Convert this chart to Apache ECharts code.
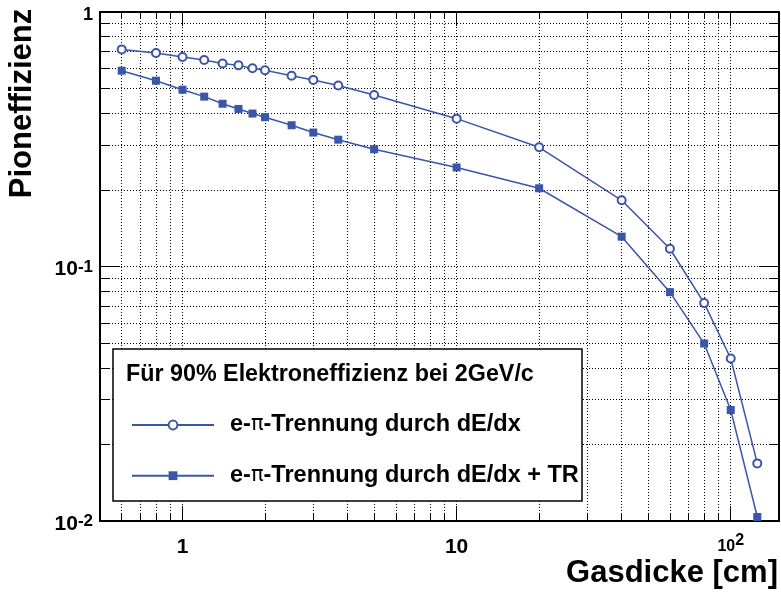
<!DOCTYPE html>
<html><head><meta charset="utf-8">
<script src="https://cdn.jsdelivr.net/npm/echarts@6/dist/echarts.min.js"></script>
<style>html,body{margin:0;padding:0;background:#fff}#c{width:781px;height:597px}</style>
</head><body><div id="c"></div>
<script>
// ---- data ----
const thickness = [0.6, 0.8, 1.0, 1.2, 1.4, 1.6, 1.8, 2.0, 2.5, 3.0, 3.7, 5, 10, 20, 40, 60, 80, 100, 125];
const effDEdx   = [0.713, 0.690, 0.666, 0.648, 0.628, 0.617, 0.601, 0.590, 0.562, 0.541, 0.514, 0.472, 0.381, 0.294, 0.182, 0.1174, 0.0718, 0.0435, 0.01684];
const effDEdxTR = [0.588, 0.537, 0.495, 0.465, 0.436, 0.416, 0.399, 0.386, 0.359, 0.336, 0.315, 0.289, 0.245, 0.203, 0.131, 0.0793, 0.0498, 0.0273, 0.01037];
const xGridValues = [0.6, 0.7, 0.8, 0.9, 1, 2, 3, 4, 5, 6, 7, 8, 9, 10, 20, 30, 40, 50, 60, 70, 80, 90, 100];
const xMajorValues = [1, 10, 100];
const yGridValues = [0.01, 0.02, 0.03, 0.04, 0.05, 0.06, 0.07, 0.08, 0.09, 0.1, 0.2, 0.3, 0.4, 0.5, 0.6, 0.7, 0.8, 0.9, 1];
const yMajorValues = [0.01, 0.1, 1];
const seriesNames = ['e-π-Trennung durch dE/dx', 'e-π-Trennung durch dE/dx + TR'];
const legendTitle = 'Für 90% Elektroneffizienz bei 2GeV/c';
const xTitle = 'Gasdicke [cm]';
const yTitle = 'Pioneffizienz';

// ---- style ----
const FONT = 'Liberation Sans';
const BLUE = '#3a56a8';
const black = '#000';

function pairs(xs, ys) { return xs.map((x, i) => [x, ys[i]]); }

function xLabel(v) {
  const e = Math.round(Math.log10(v));
  if (e === 0) return '{b|1}';
  if (e === 1) return '{b|10}';
  return '{m|10}{s|' + e + '}';
}
function yLabel(v) {
  const e = Math.round(Math.log10(v));
  if (e === 0) return '{t|1}';
  return '{b|10}{s|' + e + '}';
}

const xBase = { type: 'log', logBase: 10, min: 0.5, max: 150, gridIndex: 0 };
const yBase = { type: 'log', logBase: 10, min: 0.01, max: 1, gridIndex: 0 };
const axisLineOn = { show: true, onZero: false, lineStyle: { color: black, width: 2 } };
const tickStyle = { color: black, width: 1 };
const gridLine = { show: true, lineStyle: { color: black, width: 1, type: [1, 2] } };

function xAxisDef(pos, values, len, main) {
  return Object.assign({}, xBase, {
    position: pos,
    axisLine: main ? axisLineOn : { show: false },
    axisTick: { show: true, inside: true, length: len, customValues: values, lineStyle: tickStyle },
    minorTick: { show: false },
    splitLine: (main && pos === 'bottom') ? gridLine : { show: false },
    axisLabel: (main && pos === 'bottom') ? {
      show: true, customValues: xMajorValues, formatter: xLabel, margin: 12,
      rich: {
        b: { fontFamily: FONT, fontWeight: 'bold', fontSize: 21, color: black, lineHeight: 28 },
        m: { fontFamily: FONT, fontWeight: 'bold', fontSize: 16, color: black, lineHeight: 28 },
        s: { fontFamily: FONT, fontWeight: 'bold', fontSize: 16, color: black, verticalAlign: 'top', lineHeight: 16 }
      }
    } : { show: false }
  });
}
function yAxisDef(pos, values, len, main) {
  return Object.assign({}, yBase, {
    position: pos,
    axisLine: main ? axisLineOn : { show: false },
    axisTick: { show: true, inside: true, length: len, customValues: values, lineStyle: tickStyle },
    minorTick: { show: false },
    splitLine: (main && pos === 'left') ? gridLine : { show: false },
    axisLabel: (main && pos === 'left') ? {
      show: true, customValues: yMajorValues, formatter: yLabel, margin: 7, padding: [6, 0, 0, 0],
      rich: {
        b: { fontFamily: FONT, fontWeight: 'bold', fontSize: 21, color: black, lineHeight: 22 },
        t: { fontFamily: FONT, fontWeight: 'bold', fontSize: 18, color: black, lineHeight: 22 },
        s: { fontFamily: FONT, fontWeight: 'bold', fontSize: 17, color: black, verticalAlign: 'top', lineHeight: 17 }
      }
    } : { show: false }
  });
}

const legendRich = {
  g: { width: 11, fontSize: 23 },
  t: { fontFamily: FONT, fontWeight: 'bold', fontSize: 23.5, color: black, lineHeight: 24 },
  p: { fontFamily: 'DejaVu Sans', fontWeight: 'normal', fontSize: 21, color: black, lineHeight: 24 }
};
function legendFmt(name) {
  const parts = name.split('π');
  return '{g| }{t|' + parts[0] + '}{p|π}{t|' + parts[1] + '}';
}

const chart = echarts.init(document.getElementById('c'), null, { renderer: 'canvas' });
chart.setOption({
  animation: false,
  backgroundColor: '#fff',
  grid: { left: 100, right: 2, top: 12, bottom: 76, containLabel: false, outerBoundsMode: 'none' },
  xAxis: [
    xAxisDef('bottom', xGridValues, 8, true),
    xAxisDef('bottom', xMajorValues, 15, false),
    xAxisDef('top', xGridValues, 7, true),
    xAxisDef('top', xMajorValues, 14, false)
  ],
  yAxis: [
    yAxisDef('left', yGridValues, 10, true),
    yAxisDef('left', yMajorValues, 20, false),
    yAxisDef('right', yGridValues, 10, true),
    yAxisDef('right', yMajorValues, 20, false)
  ],
  legend: {
    show: true, orient: 'vertical', left: 131, top: 413, padding: 0,
    itemWidth: 82, itemHeight: 11, itemGap: 26.7, selectedMode: false,
    formatter: legendFmt,
    textStyle: { fontFamily: FONT, fontWeight: 'bold', fontSize: 23.5, color: black, rich: legendRich },
    data: seriesNames,
    z: 10
  },
  graphic: [
    { type: 'rect', z: 8, shape: { x: 113, y: 349, width: 469, height: 152 },
      style: { fill: '#fff', stroke: black, lineWidth: 1.5 } },
    { type: 'text', z: 9, x: 126, y: 375,
      style: { text: legendTitle, fill: black, font: 'bold 23.3px "Liberation Sans"', verticalAlign: 'middle', align: 'left' } },
    { type: 'text', z: 9, x: 778, y: 573,
      style: { text: xTitle, fill: black, font: 'bold 31px "Liberation Sans"', verticalAlign: 'middle', align: 'right' } },
    { type: 'text', z: 9, x: 22, y: 103.5, rotation: Math.PI / 2,
      style: { text: yTitle, fill: black, font: 'bold 31px "Liberation Sans"', verticalAlign: 'middle', align: 'center' } }
  ],
  series: [
    {
      name: seriesNames[0], type: 'line', xAxisIndex: 0, yAxisIndex: 0,
      data: pairs(thickness, effDEdx),
      symbol: 'emptyCircle', symbolSize: 8, showSymbol: true, showAllSymbol: true,
      color: BLUE,
      lineStyle: { color: BLUE, width: 1.5 },
      itemStyle: { color: BLUE, borderColor: BLUE, borderWidth: 1.3 },
      z: 3
    },
    {
      name: seriesNames[1], type: 'line', xAxisIndex: 0, yAxisIndex: 0,
      data: pairs(thickness, effDEdxTR),
      symbol: 'rect', symbolSize: 8, showSymbol: true, showAllSymbol: true,
      color: BLUE,
      lineStyle: { color: BLUE, width: 1.5 },
      itemStyle: { color: BLUE, borderWidth: 0 },
      z: 3
    }
  ]
});
</script>
</body></html>
